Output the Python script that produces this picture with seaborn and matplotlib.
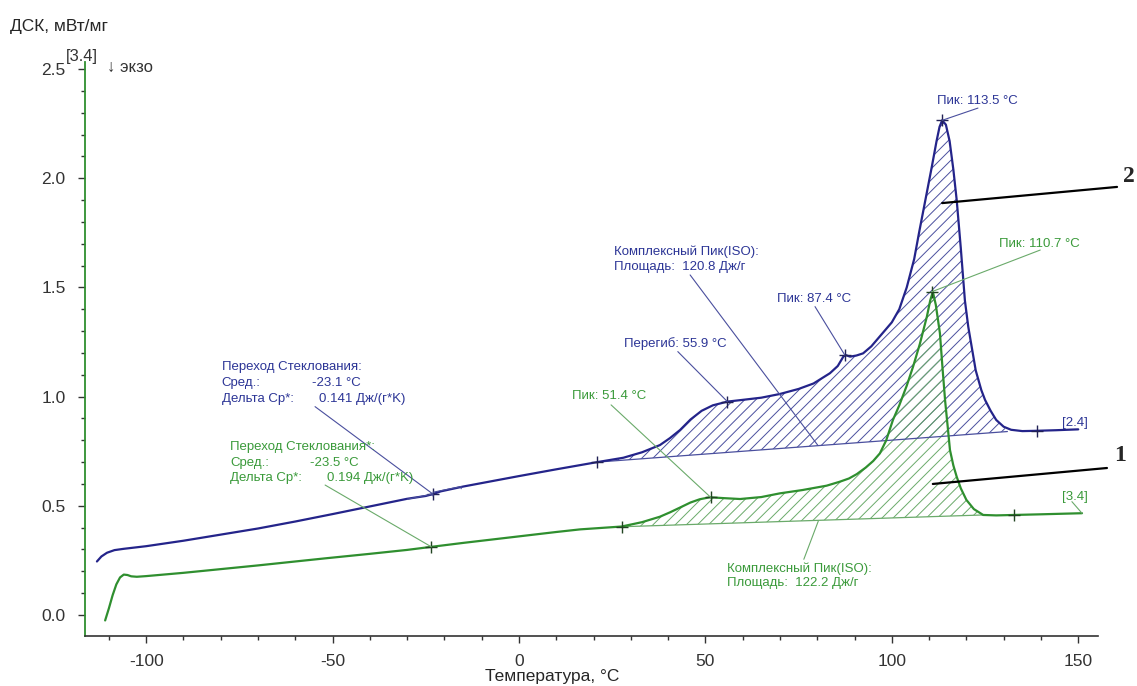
import matplotlib
matplotlib.use('Agg')
import matplotlib.pyplot as plt
import numpy as np
import pandas as pd
import seaborn as sns
from matplotlib.ticker import MultipleLocator

# curve 2 (blue), DSC, mW/mg vs temperature
blue_T = [-113.2, -112.0, -110.5, -108.5, -106, -100, -90, -80, -70, -60, -50, -40,
          -30, -25, -23, -21, -15, -10, 0, 10, 21, 28, 33, 37.8, 40.5, 43.2, 46, 49,
          52, 55.9, 60, 65, 70, 75, 79, 83.4, 85.5, 87.0, 87.6, 88.8, 90.5, 92.3, 94.5,
          97.5, 100, 102, 104, 106, 107.3, 109, 110.7, 112, 112.8, 113.5, 114.5, 115.5,
          116.5, 117.4, 118.5, 119.6, 120.5, 121.5, 122.5, 124, 125, 126.5, 128, 130,
          132, 135, 138, 144, 150]
blue_y = [0.245, 0.268, 0.285, 0.297, 0.303, 0.315, 0.340, 0.368, 0.396, 0.428, 0.462, 0.497,
          0.532, 0.545, 0.554, 0.566, 0.588, 0.604, 0.636, 0.667, 0.700, 0.720, 0.745, 0.778,
          0.810, 0.847, 0.895, 0.935, 0.960, 0.977, 0.985, 0.995, 1.012, 1.035, 1.060, 1.107,
          1.140, 1.183, 1.190, 1.183, 1.188, 1.198, 1.230, 1.290, 1.340, 1.400, 1.500, 1.630,
          1.750, 1.900, 2.050, 2.170, 2.235, 2.265, 2.245, 2.170, 2.040, 1.900, 1.680, 1.440,
          1.320, 1.220, 1.120, 1.030, 0.985, 0.935, 0.893, 0.862, 0.848, 0.842, 0.843, 0.846,
          0.850]

# curve 1 (green)
green_T = [-111.0, -110, -109, -108, -107, -106, -105, -104, -102.5, -100, -90, -80, -70,
           -60, -51.6, -40, -30, -23.5, -15, 0, 10, 16.4, 27.5, 33, 37.8, 40.5, 43.2, 46,
           48.5, 51.2, 55, 59.3, 65, 70, 76, 82.5, 86, 88.5, 90.6, 93, 95, 96.8, 98.5,
           100.3, 102, 104, 105.7, 107.5, 109.4, 110.3, 111.0, 111.8, 112.9, 113.6, 114.3,
           115.0, 115.6, 116.5, 117.4, 118.5, 120, 122, 124.5, 128, 132.8, 140, 151]
green_y = [-0.025, 0.030, 0.090, 0.140, 0.172, 0.185, 0.183, 0.177, 0.175, 0.178, 0.193,
           0.210, 0.227, 0.245, 0.260, 0.280, 0.298, 0.312, 0.330, 0.360, 0.380, 0.392,
           0.405, 0.425, 0.450, 0.470, 0.492, 0.515, 0.530, 0.539, 0.535, 0.531, 0.540,
           0.557, 0.572, 0.592, 0.610, 0.625, 0.645, 0.675, 0.705, 0.740, 0.800, 0.893,
           0.960, 1.050, 1.137, 1.240, 1.366, 1.440, 1.480, 1.420, 1.290, 1.130, 0.980,
           0.860, 0.755, 0.685, 0.633, 0.580, 0.527, 0.485, 0.458, 0.456, 0.458, 0.461,
           0.466]

# integration baselines
blue_base_T = [21.0, 131.0]
blue_base_y = [0.700, 0.840]
green_base_T = [27.5, 124.5]
green_base_y = [0.404, 0.458]

# marked points (+)
blue_mark_T = [-23.1, 21.0, 55.9, 87.4, 113.5, 138.9]
blue_mark_y = [0.554, 0.700, 0.977, 1.190, 2.265, 0.843]
green_mark_T = [-23.5, 27.5, 51.4, 110.7, 132.8]
green_mark_y = [0.312, 0.405, 0.539, 1.480, 0.458]

BLUE = '#24248a'
BLUE_TXT = '#2c3596'
BLUE_LN = '#4a4f9e'
GREEN = '#2f8f2f'
GREEN_TXT = '#3a9a3a'
GREEN_LN = '#6aaa6a'

sns.set_theme(style='ticks')
plt.rcParams['font.family'] = ['Liberation Sans', 'DejaVu Sans']
plt.rcParams['hatch.linewidth'] = 0.7
plt.rcParams['axes.unicode_minus'] = False

fig = plt.figure(figsize=(11.37, 6.86), dpi=100)
ax = fig.add_axes([0.07476, 0.07289, 0.89094, 0.83673])

df_b = pd.DataFrame({'T': blue_T, 'y': blue_y})
df_g = pd.DataFrame({'T': green_T, 'y': green_y})

# hatched peak areas
def hatch_area(T, y, bT, by, color):
    T = np.asarray(T)
    y = np.asarray(y)
    m = (T >= bT[0]) & (T <= bT[1])
    px = np.concatenate([T[m], bT[::-1]])
    py = np.concatenate([y[m], by[::-1]])
    ax.fill(px, py, facecolor='none', edgecolor=color, hatch='///', lw=0)
    ax.plot(bT, by, color=color, lw=0.9)

hatch_area(blue_T, blue_y, blue_base_T, blue_base_y, BLUE_LN)
hatch_area(green_T, green_y, green_base_T, green_base_y, GREEN_LN)

sns.lineplot(data=df_b, x='T', y='y', sort=False, estimator=None, color=BLUE, lw=1.6, ax=ax)
sns.lineplot(data=df_g, x='T', y='y', sort=False, estimator=None, color=GREEN, lw=1.6, ax=ax)

ax.plot(blue_mark_T, blue_mark_y, '+', color='#222255', ms=9, mew=1.0)
ax.plot(green_mark_T, green_mark_y, '+', color='#224422', ms=9, mew=1.0)

# small glass-transition tangent box on the blue curve
ax.plot([-23.1, -15.5, -15.5], [0.562, 0.588, 0.578], color=BLUE_LN, lw=0.8)
ax.plot([-23.1, -23.1, -30], [0.545, 0.554, 0.530], color=BLUE_LN, lw=0.8)

ax.set_xlim(-116.4, 155.3)
ax.set_ylim(-0.0962, 2.532)
ax.xaxis.set_major_locator(MultipleLocator(50))
ax.xaxis.set_minor_locator(MultipleLocator(10))
ax.yaxis.set_major_locator(MultipleLocator(0.5))
ax.yaxis.set_minor_locator(MultipleLocator(0.1))
ax.yaxis.set_major_formatter(matplotlib.ticker.FormatStrFormatter('%.1f'))
ax.tick_params(which='major', length=5, width=1, pad=8, labelsize=12.5, colors='#333333')
ax.tick_params(which='minor', length=3, width=1, colors='#333333')
ax.tick_params(axis='y', pad=9)
for s in ['top', 'right']:
    ax.spines[s].set_visible(False)
ax.spines['left'].set_color(GREEN)
ax.spines['left'].set_linewidth(1.3)
ax.spines['bottom'].set_color('#333333')
ax.spines['bottom'].set_linewidth(1.2)
ax.set_xlabel('')
ax.set_ylabel('')

fs = 9.5

def note(x, y, txt, col):
    ax.text(x, y, txt, color=col, fontsize=fs, va='center', ha='left')

def lead(x0, y0, x1, y1, col):
    ax.plot([x0, x1], [y0, y1], color=col, lw=0.8, clip_on=False)

# blue glass transition
note(-79.7, 1.136, 'Переход Стеклования:', BLUE_TXT)
note(-79.7, 1.062, 'Сред.:', BLUE_TXT)
note(-55.5, 1.062, '-23.1 °C', BLUE_TXT)
note(-79.7, 0.989, 'Дельта Cp*:', BLUE_TXT)
note(-53.6, 0.989, '0.141 Дж/(г*K)', BLUE_TXT)
lead(-54.7, 0.954, blue_mark_T[0], blue_mark_y[0], BLUE_LN)

# green glass transition
note(-77.5, 0.771, 'Переход Стеклования*:', GREEN_TXT)
note(-77.5, 0.695, 'Сред.:', GREEN_TXT)
note(-56.1, 0.695, '-23.5 °C', GREEN_TXT)
note(-77.5, 0.626, 'Дельта Cp*:', GREEN_TXT)
note(-51.5, 0.626, '0.194 Дж/(г*K)', GREEN_TXT)
lead(-52.0, 0.595, green_mark_T[0], green_mark_y[0], GREEN_LN)

# blue complex peak
note(25.5, 1.661, 'Комплексный Пик(ISO):', BLUE_TXT)
note(25.5, 1.595, 'Площадь:  120.8 Дж/г', BLUE_TXT)
lead(45.9, 1.557, 80.2, 0.776, BLUE_LN)

note(28.2, 1.241, 'Перегиб: 55.9 °C', BLUE_TXT)
lead(42.6, 1.206, blue_mark_T[2], blue_mark_y[2], BLUE_LN)

note(69.1, 1.447, 'Пик: 87.4 °C', BLUE_TXT)
lead(79.4, 1.412, blue_mark_T[3], blue_mark_y[3], BLUE_LN)

note(112.1, 2.355, 'Пик: 113.5 °C', BLUE_TXT)
lead(123.1, 2.321, blue_mark_T[4], blue_mark_y[4], BLUE_LN)

note(145.6, 0.878, '[2.4]', BLUE_TXT)

# green annotations
note(128.8, 1.699, 'Пик: 110.7 °C', GREEN_TXT)
lead(139.8, 1.671, green_mark_T[3], green_mark_y[3], GREEN_LN)

note(14.1, 1.003, 'Пик: 51.4 °C', GREEN_TXT)
lead(24.7, 0.962, green_mark_T[2], green_mark_y[2], GREEN_LN)

note(55.7, 0.214, 'Комплексный Пик(ISO):', GREEN_TXT)
note(55.7, 0.145, 'Площадь:  122.2 Дж/г', GREEN_TXT)
lead(76.4, 0.255, 80.3, 0.431, GREEN_LN)

note(145.6, 0.542, '[3.4]', GREEN_TXT)
lead(148.3, 0.519, green_T[-1], green_y[-1], GREEN_LN)

# curve numbers
ax.plot([113.5, 160.4], [1.886, 1.96], color='black', lw=1.6, clip_on=False)
ax.plot([111.0, 157.7], [0.60, 0.673], color='black', lw=1.6, clip_on=False)
ax.text(163.6, 2.01, '2', fontsize=17, fontweight='bold', family='Liberation Serif',
        ha='center', va='center', clip_on=False)
ax.text(161.2, 0.728, '1', fontsize=17, fontweight='bold', family='Liberation Serif',
        ha='center', va='center', clip_on=False)

# figure texts
fig.text(10 / 1137, 1 - 26 / 686, 'ДСК, мВт/мг', fontsize=12.5, ha='left', va='center')
fig.text(552 / 1137, 1 - 676 / 686, 'Температура, °C', fontsize=12.5, ha='center', va='center')
fig.text(66 / 1137, 1 - 56 / 686, '[3.4]', fontsize=12, ha='left', va='center', color='#333333')
fig.text(107 / 1137, 1 - 67 / 686, '↓ экзо', fontsize=12, ha='left', va='center', color='#333333')

fig.savefig('out.png', dpi=100)
